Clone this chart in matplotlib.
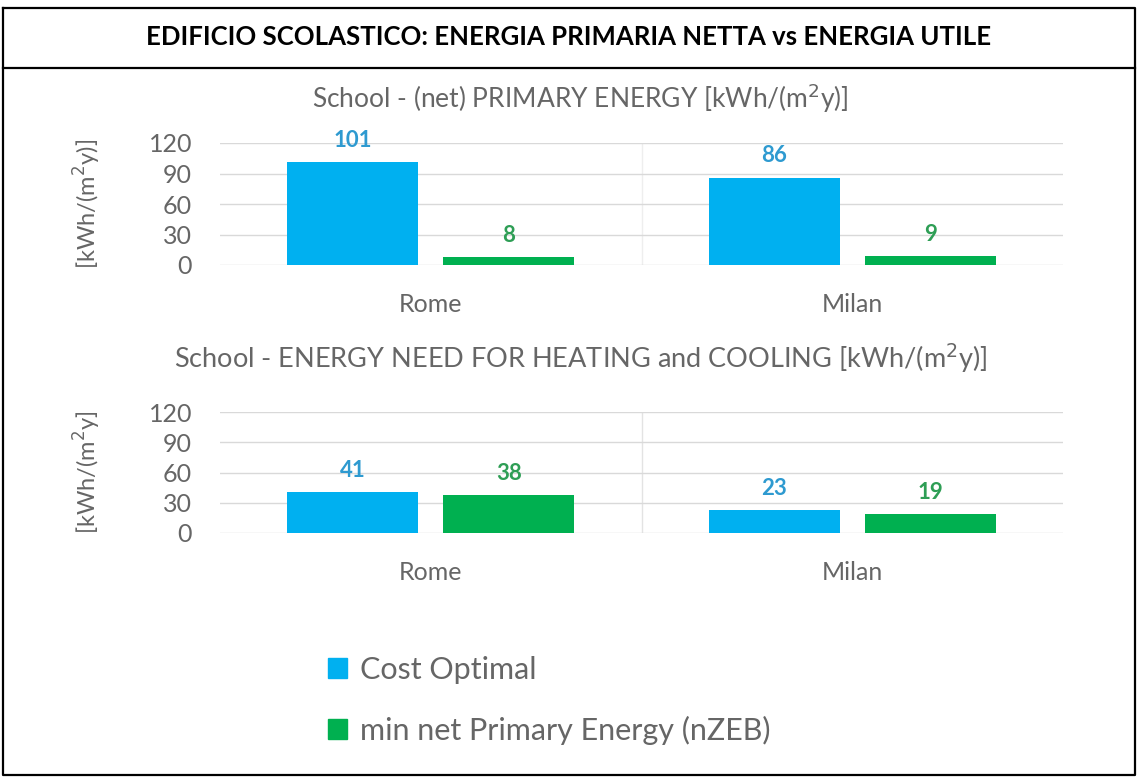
import matplotlib.pyplot as plt
from matplotlib.patches import Patch
from matplotlib.lines import Line2D

plt.rcParams['font.family'] = ['Lato', 'DejaVu Sans']

cities = ['Rome', 'Milan']
series = ['Cost Optimal', 'min net Primary Energy (nZEB)']
primary_energy = [[101, 86], [8, 9]]
energy_need = [[41, 23], [38, 19]]
yticks = [0, 30, 60, 90, 120]

colors = ['#00B0F0', '#00B050']
label_colors = ['#2E9AD0', '#2E9E55']
text_gray = '#666666'

fig = plt.figure(figsize=(11.38, 7.78), dpi=100)

# frame and header like a table cell
fig.add_artist(Line2D([0.003, 0.997, 0.997, 0.003, 0.003],
                      [0.990, 0.990, 0.004, 0.004, 0.990],
                      transform=fig.transFigure, color='black', lw=1.6))
fig.add_artist(Line2D([0.003, 0.997], [1 - 68 / 778, 1 - 68 / 778],
                      transform=fig.transFigure, color='black', lw=1.6))
fig.text(0.5, 1 - 37 / 778, 'EDIFICIO SCOLASTICO: ENERGIA PRIMARIA NETTA vs ENERGIA UTILE',
         ha='center', va='center', fontsize=18.5, fontweight='bold', color='black')

panels = [
    (primary_energy, 'School - (net) PRIMARY ENERGY [kWh/(m$^2$y)]', '[kWh/(m$^2$y)]',
     [220 / 1138, 1 - 265 / 778, 843 / 1138, 122 / 778], 1 - 98 / 778, '#EEEEEE', 19),
    (energy_need, 'School - ENERGY NEED FOR HEATING and COOLING [kWh/(m$^2$y)]', '[kWh/(m$^2$y]',
     [220 / 1138, 1 - 533 / 778, 843 / 1138, 121 / 778], 1 - 358 / 778, '#E3E3E3', 19.5),
]

width = 0.31
offset = 0.185
for data, title, ylab, rect, ty, vcol, tsize in panels:
    ax = fig.add_axes(rect)
    for i, vals in enumerate(data):
        xs = [c + (i * 2 - 1) * offset for c in range(len(cities))]
        bars = ax.bar(xs, vals, width=width, color=colors[i], zorder=3)
        for b, v in zip(bars, vals):
            ax.annotate(str(v), (b.get_x() + b.get_width() / 2, v), xytext=(0, 8),
                        textcoords='offset points', ha='center', va='bottom',
                        fontsize=16, fontweight='bold', color=label_colors[i])
    ax.set_xlim(-0.5, 1.5)
    ax.set_ylim(0, 120)
    ax.set_yticks(yticks)
    ax.set_xticks(range(len(cities)))
    ax.set_xticklabels(cities)
    ax.grid(axis='y', color='#D9D9D9', lw=1, zorder=0)
    ax.axvline(0.5, color=vcol, lw=1, zorder=0)
    for s in ax.spines.values():
        s.set_visible(False)
    ax.tick_params(length=0, labelsize=18, colors=text_gray)
    ax.tick_params(axis='y', pad=20)
    ax.tick_params(axis='x', pad=20)
    ax.set_ylabel(ylab, fontsize=17, color=text_gray)
    ax.yaxis.set_label_coords(-0.139, 0.5)
    fig.text(0.51, ty, title, ha='center', va='center', fontsize=tsize, color=text_gray)

handles = [Patch(color=c) for c in colors]
fig.legend(handles, series, loc='upper left', bbox_to_anchor=(300 / 1138, 1 - 628 / 778),
           frameon=False, fontsize=22, handlelength=0.65, handleheight=0.65,
           handletextpad=0.4, labelspacing=1.05, labelcolor=text_gray)

fig.savefig('out.png', dpi=100)
